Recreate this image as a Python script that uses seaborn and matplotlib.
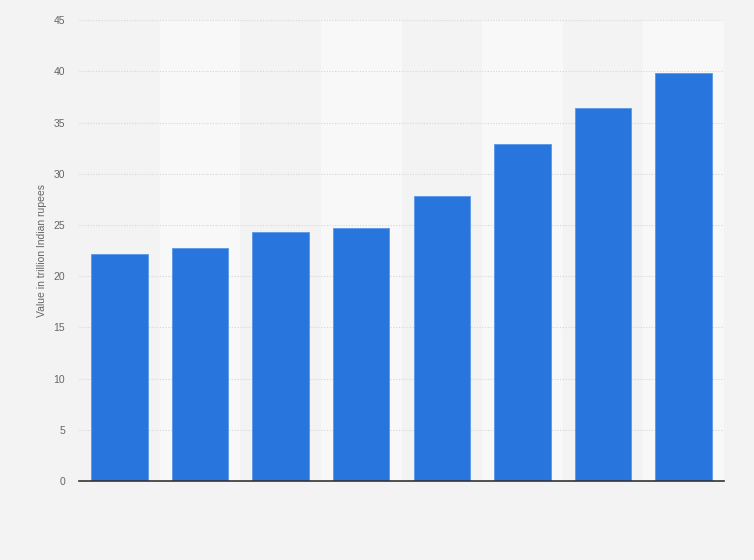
import pandas as pd
import matplotlib.pyplot as plt
import seaborn as sns

# Bar data (x labels are not shown in the chart)
categories = ['2015', '2016', '2017', '2018', '2019', '2020', '2021', '2022']
values = [22.2, 22.8, 24.3, 24.7, 27.8, 32.9, 36.4, 39.8]

df = pd.DataFrame({'category': categories, 'value': values})

sns.set_style('white')
plt.rcParams['font.family'] = ['Liberation Sans', 'DejaVu Sans']

fig = plt.figure(figsize=(7.54, 5.6), dpi=100)
fig.patch.set_facecolor('#f3f3f3')
ax = fig.add_axes([0.1048, 0.141, 0.8554, 0.823])
ax.set_facecolor('#f3f3f3')

# alternating column bands
for i in range(len(categories)):
    if i % 2 == 1:
        ax.axvspan(i - 0.5, i + 0.5, color='#f8f8f8', zorder=0, lw=0)

sns.barplot(data=df, x='category', y='value', color='#2876dd', saturation=1,
            width=0.7, ax=ax, zorder=3, edgecolor='#5a97e6', linewidth=0.6)

ax.set_xlim(-0.5, len(categories) - 0.5)
ax.set_ylim(0, 45)
ax.set_yticks(range(0, 46, 5))
ax.yaxis.grid(True, linestyle=(0, (1, 1.5)), color='#d6d6d6', linewidth=0.8, zorder=1)
ax.set_axisbelow(True)
ax.tick_params(axis='x', labelbottom=False, length=0)
ax.tick_params(axis='y', length=0, labelsize=7.5, labelcolor='#666666', pad=10)
ax.set_xlabel('')
ax.set_ylabel('Value in trillion Indian rupees', fontsize=7.5, color='#666666', labelpad=5)

for side in ['top', 'right', 'left']:
    ax.spines[side].set_visible(False)
ax.spines['bottom'].set_color('#333333')
ax.spines['bottom'].set_linewidth(1.2)
ax.spines['bottom'].set_zorder(5)

fig.savefig('out.png', dpi=100, facecolor=fig.get_facecolor())
